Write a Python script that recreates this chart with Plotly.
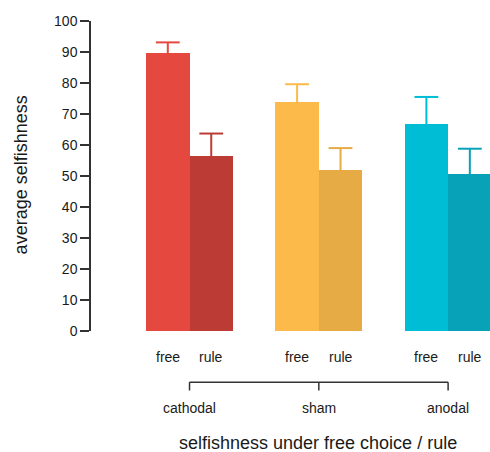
import plotly.graph_objects as go

groups = ["cathodal", "sham", "anodal"]
conditions = ["free", "rule"]
free_vals = [89.6, 73.8, 66.7]
free_err = [3.5, 5.8, 8.8]
rule_vals = [56.4, 51.8, 50.5]
rule_err = [7.3, 7.2, 8.3]
free_colors = ["#E4483F", "#FBBA4A", "#00BDD6"]
rule_colors = ["#BC3C35", "#E6AB44", "#07A2B8"]
y_ticks = [0, 10, 20, 30, 40, 50, 60, 70, 80, 90, 100]

FONT = "Liberation Sans, Arial, Helvetica, sans-serif"
TXT = "#1a1a1a"
LINE = "#333333"
bw = 0.336

fig = go.Figure()
for i, g in enumerate(groups):
    gx = i + 1
    for cond, vals, errs, cols, off in [
        ("free", free_vals, free_err, free_colors, -bw / 2),
        ("rule", rule_vals, rule_err, rule_colors, bw / 2),
    ]:
        fig.add_trace(go.Bar(
            x=[gx + off], y=[vals[i]], width=[bw],
            marker=dict(color=cols[i], line=dict(width=0)),
            showlegend=False, hoverinfo="skip",
        ))
        # error bar: cap marker at top, stem down to bar top
        fig.add_trace(go.Scatter(
            x=[gx + off], y=[vals[i] + errs[i]], mode="markers",
            marker=dict(symbol="line-ew-open", size=17, color=cols[i],
                        line=dict(width=2, color=cols[i])),
            error_y=dict(type="data", symmetric=False, array=[0], arrayminus=[errs[i]],
                         color=cols[i], thickness=2, width=0),
            showlegend=False, hoverinfo="skip", cliponaxis=False,
        ))
        fig.add_annotation(x=gx + off, y=-0.085, xref="x", yref="paper", text=cond,
                           xanchor="center", yanchor="middle",
                           showarrow=False, font=dict(size=14, color=TXT, family=FONT))
    fig.add_annotation(x=gx, y=-0.249, xref="x", yref="paper", text=g,
                       xanchor="center", yanchor="middle",
                       showarrow=False, font=dict(size=14, color=TXT, family=FONT))
    fig.add_shape(type="line", xref="x", yref="paper", x0=gx, x1=gx, y0=-0.165, y1=-0.192,
                  line=dict(color=LINE, width=1.5))

fig.add_shape(type="line", xref="x", yref="paper", x0=1, x1=3, y0=-0.165, y1=-0.165,
              line=dict(color=LINE, width=1.5))

fig.add_annotation(x=(318 - 91) / 399, y=-0.362, xref="paper", yref="paper",
                   xanchor="center", yanchor="middle",
                   text="selfishness under free choice / rule", showarrow=False,
                   font=dict(size=18, color=TXT, family=FONT))
fig.add_annotation(x=(21 - 91) / 399, y=0.502, xref="paper", yref="paper",
                   xanchor="center", yanchor="middle",
                   text="average selfishness", textangle=-90, showarrow=False,
                   font=dict(size=18, color=TXT, family=FONT))

fig.update_layout(
    width=490, height=452,
    margin=dict(l=91, r=0, t=21, b=121, pad=0, autoexpand=False),
    paper_bgcolor="white", plot_bgcolor="white",
    barmode="overlay", bargap=0,
    font=dict(family=FONT, color=TXT, size=14),
    xaxis=dict(range=[0.238, 3.324], showticklabels=False, showgrid=False, zeroline=False,
               showline=False, ticks="", automargin=False),
    yaxis=dict(range=[0, 100], tickvals=y_ticks, showgrid=False, zeroline=False,
               showline=True, linecolor=LINE, linewidth=1.5, ticks="outside", ticklen=9,
               tickcolor=LINE, tickwidth=1.5, automargin=False,
               tickfont=dict(size=14, color=TXT, family=FONT)),
)

fig.write_html("out.html", config={"displayModeBar": False},
               post_script="document.body.style.margin='0';document.body.style.overflow='hidden';")
